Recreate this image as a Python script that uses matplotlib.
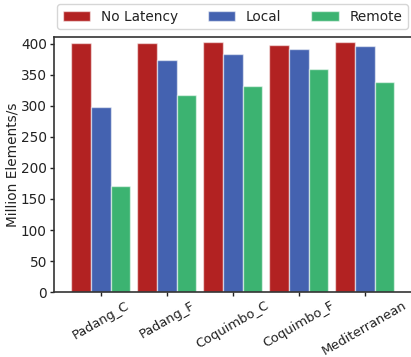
import numpy as np
import matplotlib
matplotlib.use("Agg")
import matplotlib.pyplot as plt

# throughput per dataset, in million elements per second
datasets = ["Padang_C", "Padang_F", "Coquimbo_C", "Coquimbo_F", "Mediterranean"]
no_latency = [402, 402, 403, 398, 403]
local = [299, 374, 384, 392, 397]
remote = [171, 318, 333, 360, 339]

series = ["No Latency", "Local", "Remote"]
colors = ["#b22222", "#4462b0", "#3cb371"]

plt.rcParams["font.size"] = 9.8
plt.rcParams["text.color"] = "#222222"
plt.rcParams["axes.labelcolor"] = "#222222"
plt.rcParams["xtick.color"] = "#222222"
plt.rcParams["ytick.color"] = "#222222"

fig = plt.figure(figsize=(4.11, 3.57), dpi=100)
ax = fig.add_axes([0.131, 0.182, 0.869, 0.714])

x = np.arange(len(datasets))
width = 0.3
for i, (name, vals) in enumerate(zip(series, [no_latency, local, remote])):
    ax.bar(x + (i - 1) * width, vals, width, label=name, color=colors[i],
           edgecolor=(1, 1, 1, 0.55), linewidth=1)

ax.set_xlim(-0.71, 4.70)
ax.set_ylim(0, 411)
ax.set_xticks(x)
ax.set_xticklabels(datasets, rotation=30, ha="center", fontsize=9.4)
ax.set_yticks(np.arange(0, 401, 50))
ax.set_ylabel("Million Elements/s", labelpad=1)
ax.tick_params(length=3, width=1, pad=2)
for side in ["left", "bottom", "top"]:
    ax.spines[side].set_color("#333333")
    ax.spines[side].set_linewidth(1.2)
ax.spines["right"].set_visible(False)

ax.legend(loc="lower center", bbox_to_anchor=(0.5, 1.015), ncol=3, frameon=True,
          edgecolor="#cccccc", borderaxespad=0.3, columnspacing=2.2)

fig.savefig("out.png", dpi=100)
